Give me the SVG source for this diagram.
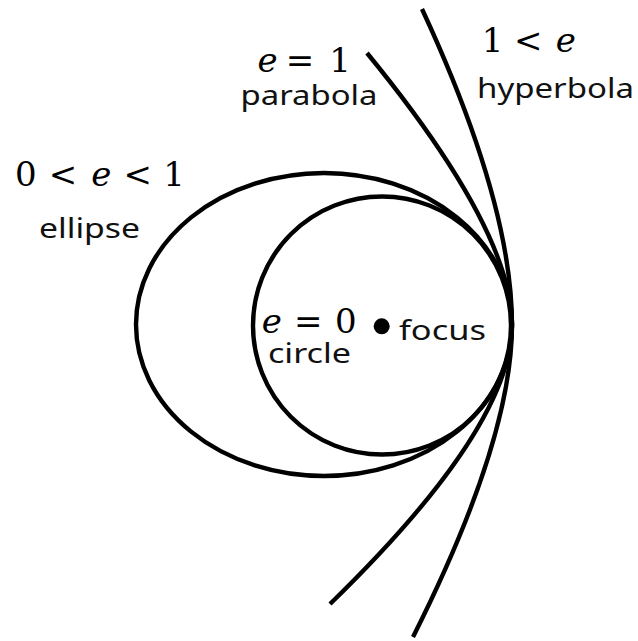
<svg xmlns="http://www.w3.org/2000/svg" width="638" height="641" viewBox="0 0 638 641">
<style>
.curve{fill:none;stroke:#000;stroke-width:4.4;stroke-linecap:butt}
.math{font-family:"DejaVu Serif","Liberation Serif",serif;font-size:34px;fill:#000;text-anchor:middle}
.math .v{font-style:italic}
.lbl{font-family:"Noto Sans","Liberation Sans",sans-serif;font-size:28px;fill:#111}
</style>
<rect width="638" height="641" fill="#fff"/>
<g id="ellipse">
<ellipse class="curve" cx="324" cy="324.5" rx="188" ry="151.5"/>
<text class="math" y="186"><tspan x="25.8">0</tspan><tspan x="63">&lt;</tspan><tspan class="v" x="101.2">e</tspan><tspan x="137.8">&lt;</tspan><tspan x="174">1</tspan></text>
<text class="lbl" x="39" y="238" textLength="101" lengthAdjust="spacingAndGlyphs">ellipse</text>
</g>
<g id="circle">
<circle class="curve" cx="382" cy="325.5" r="129"/>
<text class="math" y="333"><tspan class="v" x="271.7">e</tspan><tspan x="308.3">=</tspan><tspan x="345.8">0</tspan></text>
<text class="lbl" x="268" y="363" textLength="83" lengthAdjust="spacingAndGlyphs">circle</text>
</g>
<g id="parabola">
<path class="curve" d="M367,53 Q512,230 512,325 Q512,427 330,604"/>
<text class="math" y="72"><tspan class="v" x="267.5">e</tspan><tspan x="300">=</tspan><tspan x="340">1</tspan></text>
<text class="lbl" x="240.5" y="105" textLength="137" lengthAdjust="spacingAndGlyphs">parabola</text>
</g>
<g id="hyperbola">
<path class="curve" d="M422,9 Q512,203 512,325 Q512,440 413,637"/>
<text class="math" y="52"><tspan x="492.5">1</tspan><tspan x="528.3">&lt;</tspan><tspan class="v" x="565.8">e</tspan></text>
<text class="lbl" x="477" y="98" textLength="157" lengthAdjust="spacingAndGlyphs">hyperbola</text>
</g>
<g id="focus">
<circle cx="381.7" cy="326.3" r="8" fill="#000"/>
<text class="lbl" x="399" y="340" textLength="87" lengthAdjust="spacingAndGlyphs">focus</text>
</g>
</svg>
